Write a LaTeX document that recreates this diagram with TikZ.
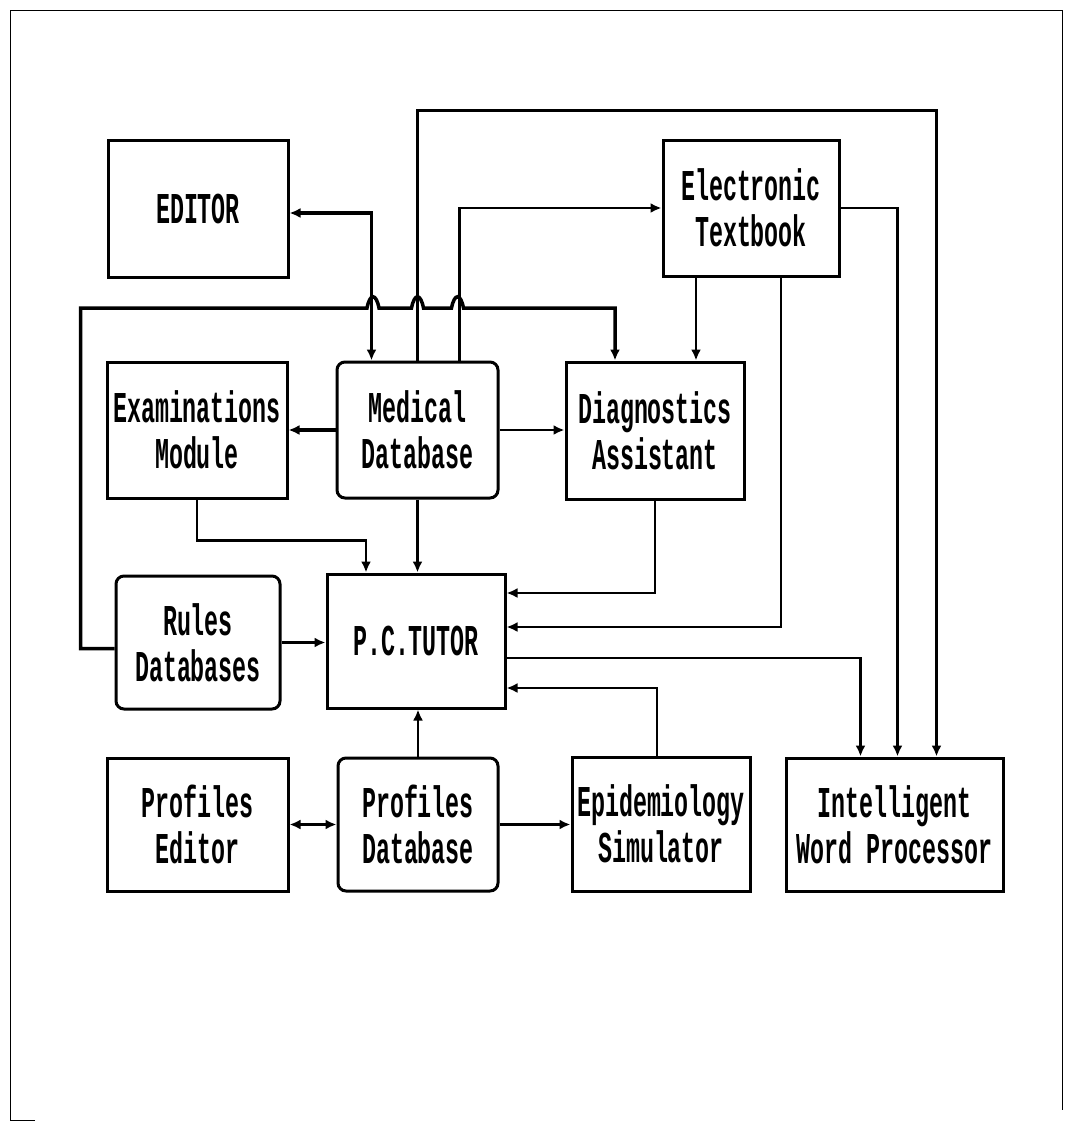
\documentclass[tikz,border=0pt]{standalone}
\usepackage{fontspec}
\usetikzlibrary{arrows.meta}
\newfontfamily\dosfont[FakeStretch=0.53]{Liberation Mono}

\begin{document}
\begin{tikzpicture}[x = 1pt, y = -1pt, draw = black,
  >={Latex[length=11pt,width=10pt]},
  box/.style = {draw, line width=3pt, align=center, inner sep=0pt,
    font=\dosfont\bfseries\fontsize{44}{46}\selectfont},
  dbbox/.style = {box, rounded corners=8pt},
  link/.style = {line width=2.2pt},
  heavy/.style = {line width=3.5pt}]
\useasboundingbox (0,0) rectangle (1070,1130);
\draw[line width=1pt] (35,1120) -- (10,1120) -- (10,10) -- (1062,10) -- (1062,1110);
\node[box, minimum width=180pt, minimum height=137pt] (editor) at (198,208.5) {EDITOR};
\node[box, minimum width=176pt, minimum height=136pt] (etext) at (751,208) {Electronic\\Textbook};
\node[box, minimum width=180pt, minimum height=136pt] (exam) at (197,430) {Examinations\\Module};
\node[dbbox, minimum width=161pt, minimum height=136pt] (meddb) at (417.5,430) {Medical\\Database};
\node[box, minimum width=178pt, minimum height=137pt] (diag) at (655,430.5) {Diagnostics\\Assistant};
\node[dbbox, minimum width=164pt, minimum height=133pt] (rules) at (198,642.5) {Rules\\Databases};
\node[box, minimum width=178pt, minimum height=134pt] (tutor) at (416,641) {P.C.TUTOR};
\node[box, minimum width=181pt, minimum height=133pt] (peditor) at (197.5,824.5) {Profiles\\Editor};
\node[dbbox, minimum width=160pt, minimum height=133pt] (pdb) at (418,824.5) {Profiles\\Database};
\node[box, minimum width=178pt, minimum height=134pt] (epid) at (661,824) {Epidemiology\\Simulator};
\node[box, minimum width=217pt, minimum height=133pt] (iwp) at (894.5,824.5) {Intelligent\\Word Processor};
\draw[heavy,<->] ([yshift=-4.5pt]editor.east) -| ([xshift=36pt]meddb.north west);
\draw[link,->] (meddb.north) -- ++(0,-250) -| ([xshift=42pt]iwp.north);
\draw[link,->] ([xshift=-40pt]meddb.north east) |- (etext.west);
\draw[link,->] (etext.east) -| ([xshift=3pt]iwp.north);
\draw[link,->] ([xshift=-55pt]etext.south) -- ([xshift=-55pt]etext.south |- diag.north);
\draw[link,->] ([xshift=30pt]etext.south) |- ([yshift=14pt]tutor.east);
\draw[link,->] (diag.south) |- ([yshift=48pt]tutor.east);
\draw[link,->] ([yshift=-17pt]tutor.east) -| ([xshift=-34pt]iwp.north);
\draw[link,->] ([xshift=-4pt]epid.north) |- ([yshift=-47pt]tutor.east);
\draw[heavy,->] (meddb.west) -- (meddb.west -| exam.east);
\draw[link,->] (meddb.east) -- (meddb.east -| diag.west);
\draw[link,->] (exam.south) -- ++(0,41) -| ([xshift=-50pt]tutor.north);
\draw[link,->] (meddb.south) -- (meddb.south |- tutor.north);
\draw[heavy,->] (rules.east) -- (rules.east -| tutor.west);
\draw[heavy,->] ([yshift=-6pt]rules.west) -- ++(-34,0) |- (367,308)
  .. controls (370,293) and (376,293) .. (379,308) -- (411.5,308)
  .. controls (414.5,293) and (420.5,293) .. (423.5,308) -- (451.5,308)
  .. controls (454.5,293) and (460.5,293) .. (463.5,308)
  -| ([xshift=-40pt]diag.north);
\draw[link,->] (pdb.north) -- (pdb.north |- tutor.south);
\draw[heavy,<->] (peditor.east) -- (pdb.west);
\draw[heavy,->] (pdb.east) -- (pdb.east -| epid.west);
\end{tikzpicture}
\end{document}
